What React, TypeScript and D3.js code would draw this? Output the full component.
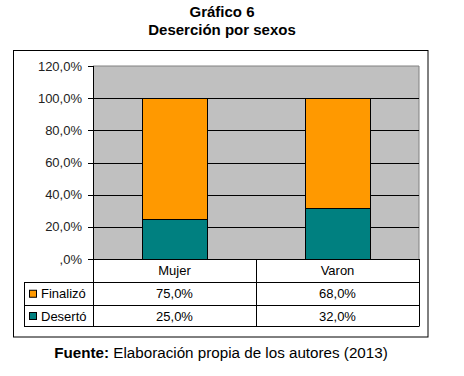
import React from "react";
import * as d3 from "d3";

const categories = ["Mujer", "Varon"];
const seriesNames = ["Finalizó", "Desertó"];
const finalizo = [75.0, 68.0];
const deserto = [25.0, 32.0];
const yTicks = [0, 20, 40, 60, 80, 100, 120];
const seriesColors = ["#FF9900", "#008080"];

const W = 464;
const H = 376;
const font = "'Liberation Sans', Arial, sans-serif";

export default function App() {
  const plotL = 93, plotR = 419, plotT = 66, plotB = 259;
  const y = d3.scaleLinear().domain([0, 120]).range([plotB, plotT]);
  const x = d3.scaleBand().domain(categories).range([plotL, plotR]).paddingInner(0.6).paddingOuter(0.3);
  const colX = d3.scaleBand().domain(categories).range([plotL, plotR]);
  const fmt = (v: number) => (v === 0 ? ",0%" : d3.format(".1f")(v).replace(".", ",") + "%");

  const stack = d3.stack<any>().keys(["d", "f"])(
    categories.map((c, i) => ({ c, d: deserto[i], f: finalizo[i] }))
  );
  const colorOf: Record<string, string> = { d: seriesColors[1], f: seriesColors[0] };

  const headB = 282;
  const row1B = 305.5;
  const row2B = 326.5;
  const tableL = 24;
  const rows = [
    { name: seriesNames[0], vals: finalizo, color: seriesColors[0], top: headB, bot: row1B },
    { name: seriesNames[1], vals: deserto, color: seriesColors[1], top: row1B, bot: row2B },
  ];
  const fs = 13;

  return (
    <svg width={W} height={H} style={{ position: "absolute", left: 0, top: 0, fontFamily: font }}>
      <rect width={W} height={H} fill="#fff" />
      <text x={222} y={17} textAnchor="middle" fontWeight="bold" fontSize={15}>Gráfico 6</text>
      <text x={222} y={34.5} textAnchor="middle" fontWeight="bold" fontSize={15}>Deserción por sexos</text>
      <rect x={13.5} y={50.5} width={414.5} height={286.5} fill="none" stroke="#000" strokeWidth={1} />

      <rect x={plotL} y={plotT} width={plotR - plotL} height={plotB - plotT} fill="#C0C0C0" />
      <line x1={plotL} x2={plotR} y1={plotT} y2={plotT} stroke="#808080" strokeWidth={1} />
      <line x1={plotR} x2={plotR} y1={plotT} y2={plotB} stroke="#808080" strokeWidth={1} />
      {yTicks.filter(t => t > 0 && t < 120).map(t => (
        <line key={t} x1={plotL} x2={plotR} y1={Math.round(y(t)) + 0.5} y2={Math.round(y(t)) + 0.5} stroke="#000" strokeWidth={1} />
      ))}
      {stack.map(s => s.map((d, i) => (
        <rect key={s.key + i} x={Math.round(x(categories[i])!) + 0.5} y={Math.round(y(d[1])) + 0.5}
          width={Math.round(x.bandwidth())} height={Math.round(y(d[0])) - Math.round(y(d[1]))}
          fill={colorOf[s.key]} stroke="#000" strokeWidth={1} />
      )))}
      <line x1={plotL + 0.5} x2={plotL + 0.5} y1={plotT} y2={row2B} stroke="#000" />
      {yTicks.map(t => (
        <g key={t}>
          <line x1={88} x2={plotL} y1={Math.round(y(t)) + 0.5} y2={Math.round(y(t)) + 0.5} stroke="#000" />
          <text x={82} y={y(t)} dy="0.35em" textAnchor="end" fontSize={fs} fill="#222">{fmt(t)}</text>
        </g>
      ))}

      {/* data table */}
      <line x1={plotL} x2={plotR} y1={plotB + 0.5} y2={plotB + 0.5} stroke="#000" />
      {categories.map((c, i) => (
        <g key={c}>
          <line x1={colX(c)! + colX.bandwidth() + 0.5} x2={colX(c)! + colX.bandwidth() + 0.5} y1={plotB} y2={row2B} stroke="#000" />
          <text x={colX(c)! + colX.bandwidth() / 2} y={(plotB + headB) / 2} dy="0.35em" textAnchor="middle" fontSize={fs}>{c}</text>
        </g>
      ))}
      <line x1={tableL} x2={plotR} y1={headB + 0.5} y2={headB + 0.5} stroke="#000" />
      <line x1={tableL} x2={plotR} y1={row1B} y2={row1B} stroke="#000" />
      <line x1={tableL} x2={plotR} y1={row2B} y2={row2B} stroke="#000" />
      <line x1={tableL + 0.5} x2={tableL + 0.5} y1={headB} y2={row2B} stroke="#000" />
      {rows.map(r => (
        <g key={r.name}>
          <rect x={29.5} y={(r.top + r.bot) / 2 - 3.5} width={7} height={7} fill={r.color} stroke="#000" />
          <text x={41} y={(r.top + r.bot) / 2} dy="0.35em" fontSize={fs}>{r.name}</text>
          {categories.map((c, i) => (
            <text key={c} x={colX(c)! + colX.bandwidth() / 2} y={(r.top + r.bot) / 2} dy="0.35em" textAnchor="middle" fontSize={fs}>{fmt(r.vals[i])}</text>
          ))}
        </g>
      ))}

      <text x={221} y={358} textAnchor="middle" fontSize={15.2}>
        <tspan fontWeight="bold">Fuente:</tspan> Elaboración propia de los autores (2013)
      </text>
    </svg>
  );
}
